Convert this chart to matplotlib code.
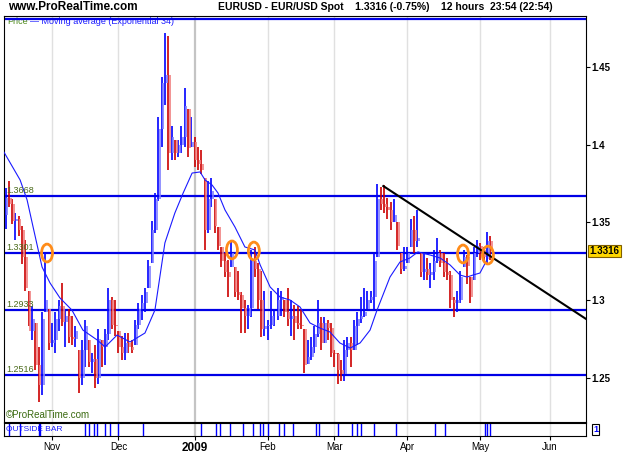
import numpy as np
import matplotlib
matplotlib.use('Agg')
import matplotlib.pyplot as plt
from matplotlib.patches import Ellipse

plt.rcParams['font.family'] = ['Liberation Sans', 'DejaVu Sans']

# x axis = weekday count since base_date, one bar per trading day
base_date = '2008-10-01'
first_bar = '2008-10-14'
first_open = 1.355

highs = [1.372, 1.377, 1.365, 1.356, 1.354, 1.348, 1.339, 1.306, 1.296, 1.285,
         1.270, 1.292, 1.330, 1.294, 1.285, 1.292, 1.300, 1.311, 1.294, 1.294,
         1.290, 1.283, 1.268, 1.274, 1.287, 1.274, 1.266, 1.271, 1.281, 1.274,
         1.281, 1.308, 1.302, 1.300, 1.280, 1.277, 1.279, 1.279, 1.274, 1.287,
         1.298, 1.303, 1.308, 1.326, 1.351, 1.369, 1.418, 1.444, 1.472, 1.470,
         1.412, 1.403, 1.403, 1.412, 1.437, 1.423, 1.418, 1.405, 1.399, 1.397,
         1.379, 1.377, 1.379, 1.365, 1.347, 1.334, 1.330, 1.326, 1.339, 1.321,
         1.319, 1.305, 1.300, 1.297, 1.332, 1.334, 1.324, 1.319, 1.306, 1.287,
         1.306, 1.294, 1.308, 1.306, 1.300, 1.308, 1.300, 1.297, 1.296, 1.294,
         1.281, 1.274, 1.276, 1.283, 1.300, 1.289, 1.289, 1.287, 1.285, 1.268,
         1.266, 1.261, 1.274, 1.276, 1.276, 1.287, 1.292, 1.302, 1.308, 1.306,
         1.306, 1.330, 1.375, 1.373, 1.374, 1.366, 1.363, 1.365, 1.350, 1.330,
         1.334, 1.334, 1.352, 1.354, 1.358, 1.330, 1.330, 1.327, 1.324, 1.332,
         1.340, 1.332, 1.330, 1.327, 1.319, 1.302, 1.306, 1.319, 1.332, 1.329,
         1.315, 1.334, 1.339, 1.337, 1.334, 1.344, 1.341]
lows = [1.346, 1.360, 1.349, 1.339, 1.341, 1.323, 1.306, 1.283, 1.274, 1.255,
        1.234, 1.239, 1.292, 1.268, 1.270, 1.266, 1.280, 1.283, 1.270, 1.272,
        1.271, 1.270, 1.240, 1.245, 1.257, 1.257, 1.253, 1.243, 1.246, 1.257,
        1.258, 1.274, 1.281, 1.277, 1.266, 1.261, 1.261, 1.266, 1.266, 1.271,
        1.281, 1.287, 1.292, 1.308, 1.324, 1.343, 1.364, 1.399, 1.426, 1.384,
        1.390, 1.390, 1.392, 1.395, 1.399, 1.392, 1.399, 1.386, 1.384, 1.381,
        1.332, 1.343, 1.360, 1.343, 1.332, 1.321, 1.315, 1.302, 1.321, 1.302,
        1.300, 1.279, 1.279, 1.281, 1.289, 1.315, 1.294, 1.276, 1.277, 1.274,
        1.281, 1.283, 1.287, 1.290, 1.289, 1.283, 1.277, 1.274, 1.281, 1.281,
        1.253, 1.259, 1.261, 1.266, 1.276, 1.268, 1.272, 1.274, 1.263, 1.257,
        1.246, 1.248, 1.248, 1.263, 1.257, 1.268, 1.271, 1.285, 1.289, 1.294,
        1.298, 1.294, 1.328, 1.358, 1.356, 1.352, 1.345, 1.350, 1.332, 1.317,
        1.319, 1.324, 1.334, 1.330, 1.334, 1.315, 1.313, 1.313, 1.308, 1.313,
        1.324, 1.321, 1.315, 1.313, 1.295, 1.289, 1.292, 1.298, 1.321, 1.310,
        1.298, 1.313, 1.328, 1.326, 1.325, 1.324, 1.326]
closes = [1.366, 1.362, 1.351, 1.352, 1.345, 1.328, 1.308, 1.280, 1.288, 1.258,
          1.245, 1.288, 1.300, 1.272, 1.274, 1.288, 1.296, 1.286, 1.290, 1.276,
          1.275, 1.280, 1.250, 1.268, 1.283, 1.260, 1.262, 1.250, 1.275, 1.270,
          1.278, 1.300, 1.284, 1.283, 1.270, 1.266, 1.272, 1.270, 1.268, 1.284,
          1.294, 1.298, 1.305, 1.322, 1.345, 1.365, 1.410, 1.440, 1.445, 1.395,
          1.405, 1.395, 1.400, 1.405, 1.425, 1.398, 1.402, 1.390, 1.388, 1.384,
          1.345, 1.365, 1.370, 1.348, 1.335, 1.325, 1.318, 1.315, 1.330, 1.305,
          1.303, 1.295, 1.290, 1.295, 1.325, 1.320, 1.300, 1.281, 1.283, 1.284,
          1.290, 1.290, 1.300, 1.302, 1.292, 1.288, 1.290, 1.285, 1.284, 1.283,
          1.258, 1.263, 1.270, 1.278, 1.285, 1.272, 1.285, 1.282, 1.266, 1.265,
          1.255, 1.252, 1.268, 1.272, 1.268, 1.283, 1.288, 1.290, 1.292, 1.300,
          1.302, 1.325, 1.365, 1.362, 1.360, 1.358, 1.350, 1.355, 1.335, 1.320,
          1.322, 1.330, 1.345, 1.338, 1.340, 1.318, 1.320, 1.316, 1.318, 1.325,
          1.330, 1.324, 1.318, 1.316, 1.300, 1.298, 1.300, 1.315, 1.328, 1.322,
          1.302, 1.330, 1.335, 1.332, 1.328, 1.338, 1.3316]

# exponential 34 moving average
ema_days = [8.5, 13.4, 15.5, 17.3, 20.0, 22.4, 25.4, 29.0, 32.3, 36.6, 39.0,
            42.6, 46.5, 51.0, 54.0, 57.0, 60.0, 62.5, 65.2, 67.6, 69.1, 71.2,
            73.0, 75.1, 78.1, 81.1, 84.1, 85.7, 88.7, 91.7, 94.7, 97.7, 100.7,
            103.7, 106.7, 109.7, 112.8, 115.8, 118.8, 120.9, 124.8, 127.8,
            130.8, 133.2, 136.9, 139.9, 142.9, 145.9, 148.0, 149.8, 151.9, 154.3]
ema_values = [1.3955, 1.3774, 1.3645, 1.3471, 1.3213, 1.3110, 1.3013, 1.2935,
              1.2806, 1.2742, 1.2697, 1.2774, 1.2729, 1.2787, 1.2935, 1.3368,
              1.3561, 1.3690, 1.3819, 1.3826, 1.3774, 1.3742, 1.3690, 1.3581,
              1.3471, 1.3342, 1.3323, 1.3226, 1.3084, 1.3019, 1.3000, 1.2955,
              1.2852, 1.2819, 1.2794, 1.2723, 1.2690, 1.2723, 1.2806, 1.2935,
              1.3148, 1.3245, 1.3271, 1.3310, 1.3290, 1.3271, 1.3226, 1.3161,
              1.3148, 1.3161, 1.3174, 1.3271]

levels = [1.4810, 1.3668, 1.3301, 1.2933, 1.2516]
level_labels = ['', '1.3668', '1.3301', '1.2933', '1.2516']

trend_days = [122.8, 183.9]
trend_prices = [1.3735, 1.2877]

circle_days = [21.5, 77.2, 83.8, 146.8, 154.3]
circle_prices = [1.3303, 1.3323, 1.3316, 1.3297, 1.3290]

outside_bar_days = [10, 13.5, 19, 19.5, 33, 34, 35.5, 36.5, 39, 40.5, 43, 50.5,
                    68, 72.5, 73.5, 76.5, 80.5, 83.5, 85.5, 86.5, 88, 91.5, 93,
                    95.5, 102.5, 103.5, 109, 113.5, 115, 116, 120, 126.5, 138.5,
                    141.5, 153.5, 154, 155]

month_dates = ['2008-11-01', '2008-12-01', '2009-01-01', '2009-02-01',
               '2009-03-01', '2009-04-01', '2009-05-01', '2009-06-01']
month_labels = ['Nov', 'Dec', '2009', 'Feb', 'Mar', 'Apr', 'May', 'Jun']

price_ticks = [1.25, 1.3, 1.35, 1.4, 1.45]
last_price = 1.3316

start = np.busday_count(base_date, first_bar)
days = start + np.arange(len(highs))
hi = np.array(highs)
lo = np.array(lows)
cl = np.array(closes)
op = np.concatenate([[first_open], cl[:-1]])
up = cl >= op
month_pos = np.busday_count(base_date, month_dates)

fig = plt.figure(figsize=(6.25, 4.69), dpi=100)
ax = fig.add_axes([4/625, 47/469, 582/625, 406/469])
ax2 = fig.add_axes([4/625, 33/469, 582/625, 13/469])

for a in (ax, ax2):
    for p, lab in zip(month_pos, month_labels):
        if lab == '2009':
            a.axvline(p, color='#c4c4c4', lw=1.6, zorder=0)
        else:
            a.axvline(p, color='#e0e0e0', lw=1.0, zorder=0)
    a.set_xlim(8.54, 183.84)

# bars: full range dark, open-close light next to it
dark = np.where(up, '#0000ff', '#cc0000')
light = np.where(up, '#8080ff', '#f08080')
ax.vlines(days, lo, hi, colors=dark, lw=1.2, zorder=3)
ob = np.clip(op, lo, hi)
ax.vlines(days + 0.5, np.minimum(ob, cl), np.maximum(ob, cl), colors=light, lw=1.2, zorder=3)

ax.plot(ema_days, ema_values, color='#1a1aff', lw=0.8, zorder=4)

for lv, lab in zip(levels, level_labels):
    ax.axhline(lv, color='#0000e6', lw=1.6, zorder=2)
    if lab:
        ax.text(0.004, lv + 0.0009, lab, transform=ax.get_yaxis_transform(),
                fontsize=6.5, color='#4a6a1a', va='bottom', ha='left', zorder=5)

ax.plot(trend_days, trend_prices, color='black', lw=1.5, zorder=5)

for d, p in zip(circle_days, circle_prices):
    ax.add_patch(Ellipse((d, p), 3.3, 0.0115, fill=False, edgecolor='#ff8c1a', lw=2, zorder=6))

ax.set_ylim(1.2213, 1.4832)
ax.set_xticks([])
ax.yaxis.tick_right()
ax.set_yticks(price_ticks)
ax.set_yticklabels(['1.25', '1.3', '1.35', '1.4', '1.45'], fontsize=7, fontweight='bold')
ax.tick_params(axis='y', length=3, pad=1)
ax.text(1.006, last_price, '1.3316', transform=ax.get_yaxis_transform(), fontsize=7,
        fontweight='bold', va='center', ha='left',
        bbox=dict(boxstyle='square,pad=0.15', facecolor='#ffd700', edgecolor='#806000', lw=0.8))

ax.text(0.006, 0.9975, 'Price', transform=ax.transAxes, fontsize=6.5, color='#4d8a1a', va='top', zorder=1)
ax.text(0.045, 0.9975, '\u2014 Moving average (Exponential 34)', transform=ax.transAxes,
        fontsize=6.5, color='#1a1aff', va='top', zorder=1)
ax.text(0.003, 0.005, '\u00a9ProRealTime.com', transform=ax.transAxes, fontsize=7,
        color='#3a6a10', va='bottom')

ax2.vlines(outside_bar_days, 0, 1, colors='#0000ff', lw=1.0)
ax2.set_ylim(0, 1)
ax2.set_yticks([])
ax2.set_xticks(month_pos)
ax2.set_xticklabels(month_labels, fontsize=7)
for t in ax2.get_xticklabels():
    if t.get_text() == '2009':
        t.set_fontweight('bold')
        t.set_fontsize(8.5)
ax2.tick_params(axis='x', length=3, pad=1.5)
ax2.text(0.004, 0.5, 'OUTSIDE BAR', transform=ax2.transAxes, fontsize=6, color='#1a1aff', va='center')
ax2.text(1.012, 0.5, '1', transform=ax2.transAxes, fontsize=6.5, color='#0000ff',
         fontweight='bold', va='center',
         bbox=dict(boxstyle='square,pad=0.1', facecolor='white', edgecolor='black', lw=0.8))

fig.text(8/625, 1 - 7/469, 'www.ProRealTime.com', fontsize=8.5, fontweight='bold', va='center')
fig.text(218/625, 1 - 7/469, 'EURUSD - EUR/USD Spot    1.3316 (-0.75%)    12 hours  23:54 (22:54)',
         fontsize=7.5, fontweight='bold', va='center')

plt.savefig('out.png', dpi=100)
